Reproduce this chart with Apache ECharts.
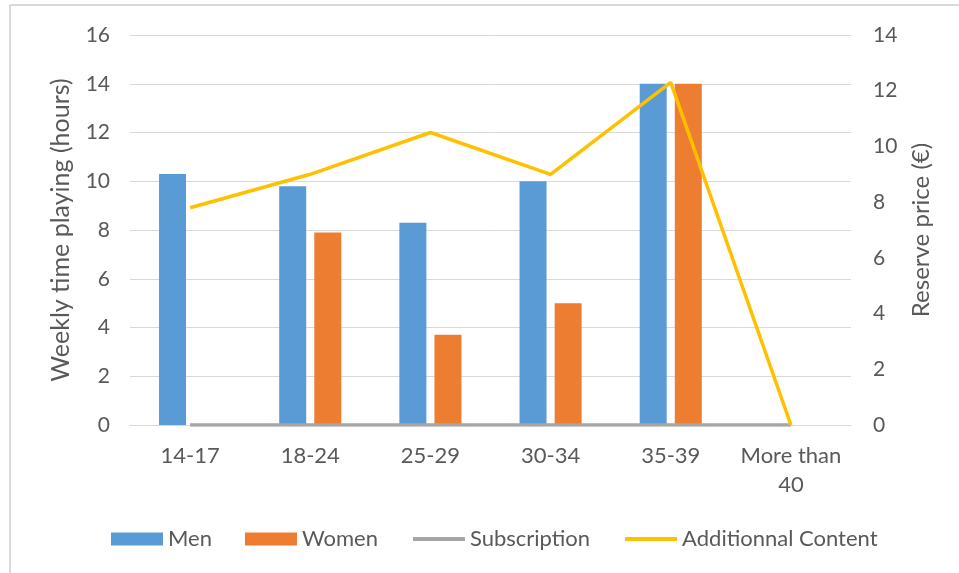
<!DOCTYPE html>
<html>
<head>
<meta charset="utf-8">
<script src="https://cdn.jsdelivr.net/npm/echarts@6/dist/echarts.min.js"></script>
<style>
html,body{margin:0;padding:0;background:#fff;}
#chart{width:959px;height:573px;}
</style>
</head>
<body>
<div id="chart"></div>
<script>
const categories = ['14-17', '18-24', '25-29', '30-34', '35-39', 'More than 40'];
const men = [10.3, 9.8, 8.3, 10.0, 14.0, 0];
const women = [0, 7.9, 3.7, 5.0, 14.0, 0];
const subscription = [0, 0, 0, 0, 0, 0];
const additionalContent = [7.8, 9.0, 10.5, 9.0, 12.3, 0];
const leftTicks = [0, 16, 2];
const rightTicks = [0, 14, 2];

const FONT = 'Lato';
const TXT = '#595959';

const chart = echarts.init(document.getElementById('chart'), null, {renderer: 'canvas'});
chart.setOption({
  animation: false,
  backgroundColor: '#ffffff',
  textStyle: {fontFamily: FONT, color: TXT},
  grid: {left: 130, right: 108, top: 35, bottom: 148, containLabel: false},
  graphic: [
    {type: 'line', shape: {x1: 10, y1: 5, x2: 959, y2: 5}, style: {stroke: '#d9d9d9', lineWidth: 2}, silent: true},
    {type: 'line', shape: {x1: 10, y1: 5, x2: 10, y2: 573}, style: {stroke: '#d9d9d9', lineWidth: 2}, silent: true}
  ],
  legend: {
    left: 106,
    top: 523,
    itemWidth: 52,
    itemHeight: 13,
    itemGap: 33,
    textStyle: {fontFamily: FONT, fontSize: 22, color: TXT},
    data: [
      {name: 'Men', icon: 'rect'},
      {name: 'Women', icon: 'rect'},
      {name: 'Subscription', itemStyle: {opacity: 0}, lineStyle: {width: 4}},
      {name: 'Additionnal Content', itemStyle: {opacity: 0}, lineStyle: {width: 4}}
    ]
  },
  xAxis: {
    type: 'category',
    data: categories,
    boundaryGap: true,
    axisLine: {show: true, lineStyle: {color: '#d9d9d9', width: 1}},
    axisTick: {show: false},
    axisLabel: {
      fontFamily: FONT, fontSize: 22, color: TXT, margin: 16, lineHeight: 29, interval: 0,
      formatter: v => v.replace('than ', 'than\n')
    }
  },
  yAxis: [
    {
      type: 'value', min: leftTicks[0], max: leftTicks[1], interval: leftTicks[2],
      name: 'Weekly time playing (hours)', nameLocation: 'middle', nameGap: 57, nameRotate: 90,
      nameTextStyle: {fontFamily: FONT, fontSize: 25, color: TXT},
      axisLine: {show: false}, axisTick: {show: false},
      axisLabel: {fontFamily: FONT, fontSize: 21, color: TXT, margin: 20},
      splitLine: {show: true, lineStyle: {color: '#d9d9d9', width: 1}}
    },
    {
      type: 'value', min: rightTicks[0], max: rightTicks[1], interval: rightTicks[2],
      name: 'Reserve price (€)', nameLocation: 'middle', nameGap: 58, nameRotate: 90,
      nameTextStyle: {fontFamily: FONT, fontSize: 24, color: TXT},
      axisLine: {show: false}, axisTick: {show: false},
      axisLabel: {fontFamily: FONT, fontSize: 21, color: TXT, margin: 22},
      splitLine: {show: false}
    }
  ],
  series: [
    {name: 'Men', type: 'bar', yAxisIndex: 0, data: men, barWidth: 27, barGap: '30%',
     itemStyle: {color: '#5B9BD5'}},
    {name: 'Women', type: 'bar', yAxisIndex: 0, data: women, barWidth: 27, barGap: '30%',
     itemStyle: {color: '#ED7D31'}},
    {name: 'Subscription', type: 'line', yAxisIndex: 0, data: subscription, symbol: 'none',
     lineStyle: {color: '#A5A5A5', width: 3.5}, itemStyle: {color: '#A5A5A5'}},
    {name: 'Additionnal Content', type: 'line', yAxisIndex: 1, data: additionalContent, symbol: 'none',
     lineStyle: {color: '#FFC000', width: 3.5}, itemStyle: {color: '#FFC000'}}
  ]
});
</script>
</body>
</html>
